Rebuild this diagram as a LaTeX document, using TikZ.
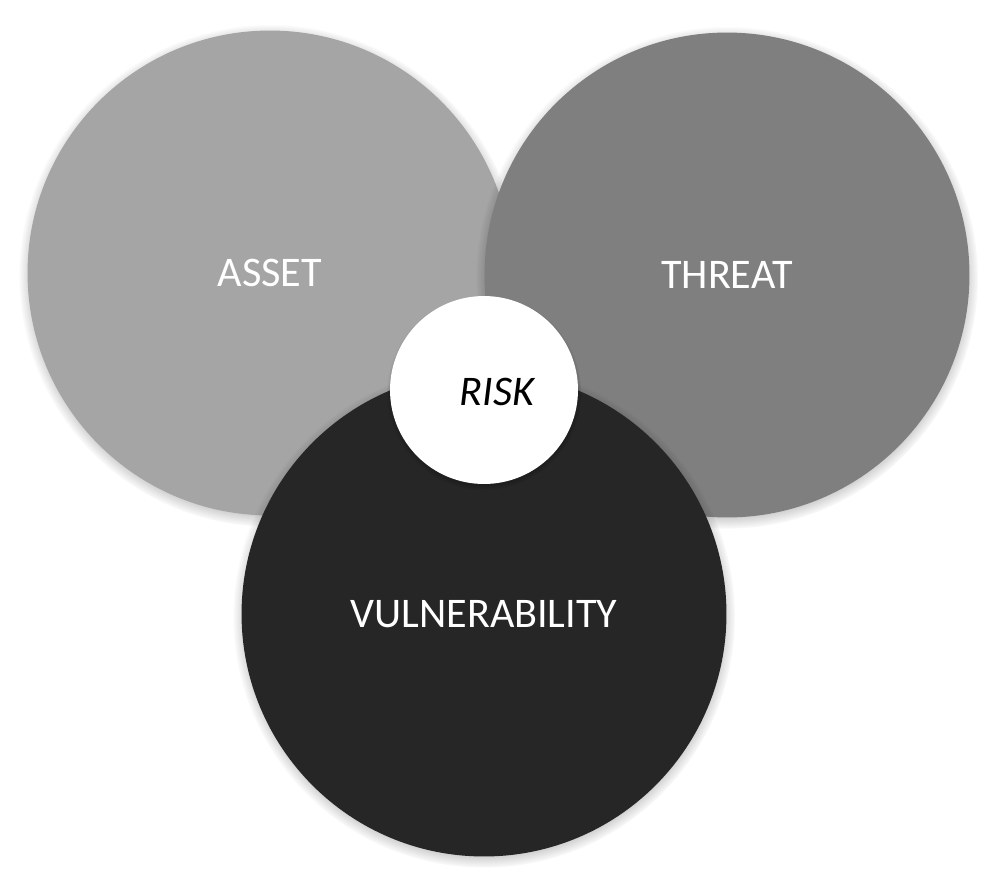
\documentclass[tikz,border=0pt]{standalone}
\usepackage{fontspec}
\setmainfont{Carlito}
\usetikzlibrary{shadows,fadings}

\definecolor{assetgray}{HTML}{A5A5A5}
\definecolor{threatgray}{HTML}{7F7F7F}
\definecolor{vulngray}{HTML}{262626}

\tikzset{
	softshadow/.style={general shadow={shadow scale=1.035, shadow yshift=-1.5pt,
		fill=black, opacity=.55, path fading={circle with fuzzy edge 15 percent}}},
	bigdisc/.style={circle, inner sep=0pt, minimum size=9.7cm, softshadow,
		text=white, font=\fontsize{24}{28}\selectfont},
	riskdisc/.style={circle, inner sep=0pt, minimum size=3.76cm, fill=white, softshadow},
}

\begin{document}
\begin{tikzpicture}[x=0.02cm, y=-0.02cm]
	\useasboundingbox (0,0) rectangle (999,872);

	\node[bigdisc, fill=assetgray]  (asset)  at (270,273) {ASSET};		%left
	\node[bigdisc, fill=threatgray] (threat) at (727,275) {THREAT};		%right
	\node[bigdisc, fill=vulngray]   (vuln)   at (484,614) {VULNERABILITY};	%bottom

	\node[riskdisc] (risk) at (484,390) {};		%middle
	\node[font=\fontsize{24}{28}\selectfont\itshape] (risklabel) at (497,392) {RISK};
\end{tikzpicture}
\end{document}
